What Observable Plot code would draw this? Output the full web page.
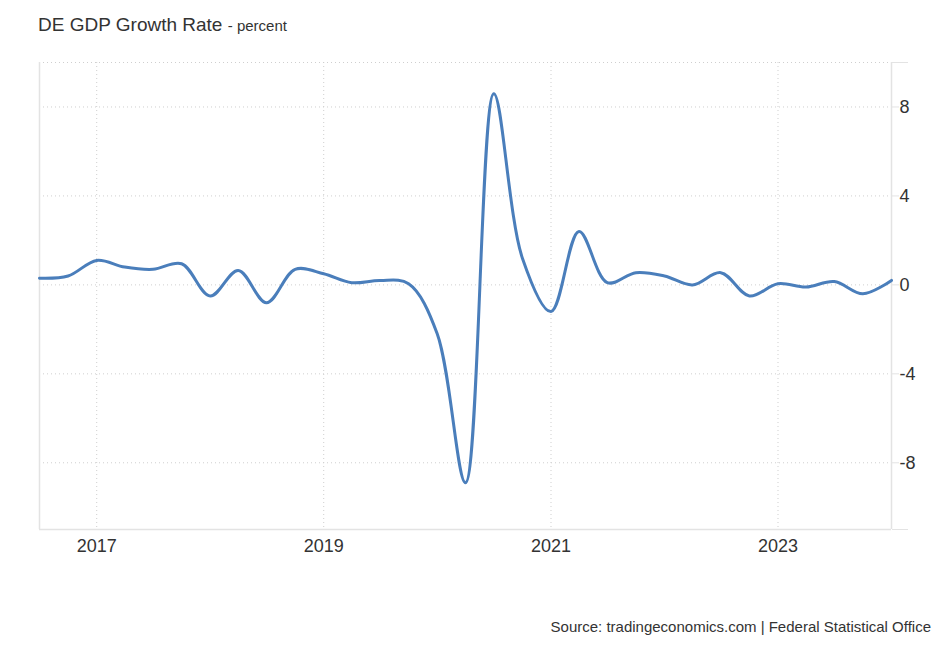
<!DOCTYPE html>
<html>
<head>
<meta charset="utf-8">
<script src="https://cdn.jsdelivr.net/npm/d3@7"></script>
<script src="https://cdn.jsdelivr.net/npm/@observablehq/plot@0.6"></script>
<style>
  html, body { margin: 0; padding: 0; background: #fff; }
  #wrap { position: relative; width: 948px; height: 647px; font-family: "Liberation Sans", Arial, sans-serif; color: #333; }
  #title { position: absolute; left: 38px; top: 15px; font-size: 19px; line-height: 19px; white-space: nowrap; }
  #title span { font-size: 15px; }
  #source { position: absolute; right: 17px; top: 618px; font-size: 15px; line-height: 18px; white-space: nowrap; }
  #chart { position: absolute; left: 0; top: 0; }
</style>
</head>
<body>
<div id="wrap">
  <div id="chart"></div>
  <div id="title">DE GDP Growth Rate <span>- percent</span></div>
  <div id="source">Source: tradingeconomics.com | Federal Statistical Office</div>
</div>
<script>
// Quarterly GDP growth (QoQ, %), dated at quarter start
const dates = [
  "2016-07-01","2016-10-01",
  "2017-01-01","2017-04-01","2017-07-01","2017-10-01",
  "2018-01-01","2018-04-01","2018-07-01","2018-10-01",
  "2019-01-01","2019-04-01","2019-07-01","2019-10-01",
  "2020-01-01","2020-04-01","2020-07-01","2020-10-01",
  "2021-01-01","2021-04-01","2021-07-01","2021-10-01",
  "2022-01-01","2022-04-01","2022-07-01","2022-10-01",
  "2023-01-01","2023-04-01","2023-07-01","2023-10-01",
  "2024-01-01"
];
const growth = [
  0.3, 0.4,
  1.1, 0.8, 0.7, 0.95,
  -0.5, 0.65, -0.8, 0.7,
  0.5, 0.1, 0.2, 0.05,
  -2.2, -8.9, 8.6, 1.2,
  -1.2, 2.4, 0.1, 0.55,
  0.4, 0.0, 0.55, -0.5,
  0.05, -0.1, 0.15, -0.4,
  0.2
];
const yTicks = [-8, -4, 0, 4, 8];
const yDomain = [-11, 10];
const xTickYears = ["2017-01-01", "2019-01-01", "2021-01-01", "2023-01-01"];

const data = dates.map((d, i) => ({ date: new Date(d + "T00:00:00Z"), value: growth[i] }));
const xTicks = xTickYears.map(d => new Date(d + "T00:00:00Z"));
const xDomain = [data[0].date, data[data.length - 1].date];

const gridStyle = { stroke: "#cfcfcf", strokeOpacity: 1, strokeDasharray: "1,3", strokeWidth: 1 };
const axisColor = "#e3e3e3";

const chart = Plot.plot({
  width: 948,
  height: 647,
  marginLeft: 39,
  marginRight: 57,
  marginTop: 62,
  marginBottom: 118,
  style: { fontFamily: "'Liberation Sans', Arial, sans-serif", fontSize: "18px", color: "#333", background: "transparent" },
  x: { type: "utc", domain: xDomain },
  y: { domain: yDomain },
  marks: [
    Plot.gridY([...yTicks, yDomain[1]], gridStyle),
    Plot.gridX(xTicks, gridStyle),
    Plot.ruleX([xDomain[0], xDomain[1]], { stroke: axisColor, strokeWidth: 1.5 }),
    Plot.ruleY([yDomain[0]], { stroke: axisColor, strokeWidth: 1.5 }),
    Plot.axisY([yDomain[0], yDomain[1]], { anchor: "right", tickSize: 16, tickFormat: () => "", stroke: axisColor, label: null }),
    Plot.axisY(yTicks, { anchor: "right", tickSize: 7, tickPadding: 1, tickFormat: d => String(d), stroke: axisColor, fill: "#333", label: null, textAnchor: "start" }),
    Plot.axisX(xTicks, { anchor: "bottom", tickSize: 0, tickPadding: 10, tickFormat: d3.utcFormat("%Y"), fill: "#333", label: null }),
    Plot.line(data, { x: "date", y: "value", stroke: "#4a7ebb", strokeWidth: 3, curve: "catmull-rom" })
  ]
});
document.getElementById("chart").appendChild(chart);
</script>
</body>
</html>
